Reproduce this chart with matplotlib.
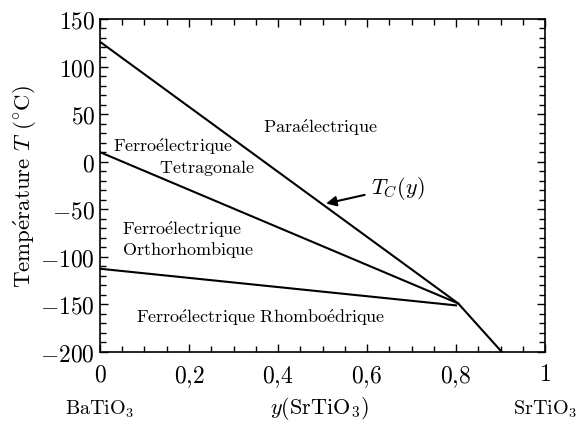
import numpy as np
import matplotlib
matplotlib.use("Agg")
import matplotlib.pyplot as plt
import matplotlib.ticker as ticker

plt.rcParams['mathtext.fontset'] = 'cm'
plt.rcParams['font.family'] = 'serif'
plt.rcParams['font.serif'] = ['cmr10', 'DejaVu Serif']
plt.rcParams['axes.formatter.use_mathtext'] = True

# phase boundaries (y fraction of SrTiO3, temperature in C)
tc_y = [0.0, 0.805, 0.903]
tc_T = [126, -149, -200]
tetra_y = [0.0, 0.805]
tetra_T = [10, -149]
ortho_y = [0.0, 0.80]
ortho_T = [-112.5, -151]

xticks = [0, 0.2, 0.4, 0.6, 0.8, 1.0]
yticks = [-200, -150, -100, -50, 0, 50, 100, 150]


def rm(s):
    s = s.replace(' ', r'\ ').replace('é', r"\'{e}")
    return r'$\mathrm{' + s + '}$'


fig = plt.figure(figsize=(5.8, 4.27), dpi=100)
ax = fig.add_axes([0.1724, 0.1733, 0.7673, 0.78])

for xs, ys in [(tc_y, tc_T), (tetra_y, tetra_T), (ortho_y, ortho_T)]:
    ax.plot(xs, ys, color='black', lw=1.5)

ax.set_xlim(0, 1)
ax.set_ylim(-200, 150)
ax.set_xticks(xticks)
ax.set_yticks(yticks)
ax.xaxis.set_minor_locator(ticker.MultipleLocator(0.05))
ax.yaxis.set_minor_locator(ticker.MultipleLocator(10))
ax.xaxis.set_major_formatter(ticker.FuncFormatter(
    lambda v, p: '$%s$' % ('%g' % v).replace('.', '{,}')))
ax.yaxis.set_major_formatter(ticker.FuncFormatter(lambda v, p: '$%g$' % v))
ax.tick_params(which='both', direction='in', top=True, right=True,
               labelsize=17)
ax.tick_params(which='major', length=6, width=1)
ax.tick_params(which='minor', length=4, width=1)
ax.tick_params(axis='x', pad=8)
for sp in ax.spines.values():
    sp.set_linewidth(1.2)

ax.set_ylabel(rm('Température') + r' $T$ ' + r'$(^{\circ}\mathrm{C})$',
              fontsize=16.5, labelpad=1)

ax.text(0.0, -0.168, rm('BaTiO') + '$_3$', transform=ax.transAxes,
        ha='center', va='center', fontsize=14.5)
ax.text(0.494, -0.168, r'$y(\mathrm{SrTiO}_3)$', transform=ax.transAxes,
        ha='center', va='center', fontsize=16)
ax.text(1.0, -0.168, rm('SrTiO') + '$_3$', transform=ax.transAxes,
        ha='center', va='center', fontsize=14.5)

fs = 13
ax.text(0.494, 37, rm('Paraélectrique'), ha='center', va='center', fontsize=fs)
ax.text(0.164, 16.5, rm('Ferroélectrique'), ha='center', va='center', fontsize=fs)
ax.text(0.240, -5.6, rm('Tetragonale'), ha='center', va='center', fontsize=fs)
ax.text(0.049, -70.7, rm('Ferroélectrique'), ha='left', va='center', fontsize=fs)
ax.text(0.049, -91.7, rm('Orthorhombique'), ha='left', va='center', fontsize=fs)
ax.text(0.081, -163.2, rm('Ferroélectrique Rhomboédrique'), ha='left',
        va='center', fontsize=fs)

ax.annotate(r'$T_C(y)$', xy=(0.508, -44), xytext=(0.61, -27),
            fontsize=16, ha='left', va='center',
            arrowprops=dict(arrowstyle='-|>', color='black', lw=1.5,
                            mutation_scale=15, shrinkA=3, shrinkB=0))

fig.savefig('out.png', dpi=100)
